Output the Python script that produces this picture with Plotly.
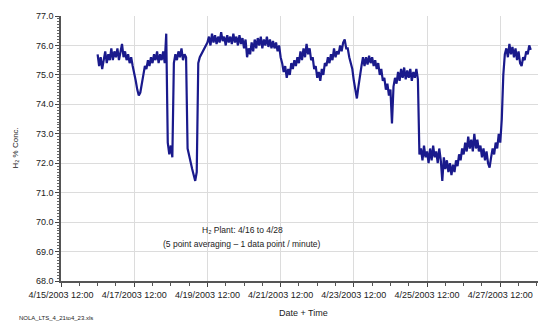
import pandas as pd
import plotly.graph_objects as go

# Hourly H2 concentration readings (%), starting 4/16/2003 12:00
h2 = [
    # 4/16 12:00 - 4/17 11:00
    75.7, 75.3, 75.6, 75.2, 75.5, 75.8, 75.4, 75.7, 75.5, 75.9, 75.5, 75.8,
    75.6, 75.9, 75.5, 75.8, 76.05, 75.6, 75.8, 75.5, 75.7, 75.4, 75.6, 75.3,
    # 4/17 12:00 - 4/18 11:00
    75.1, 74.8, 74.5, 74.3, 74.4, 74.8, 75.0, 75.3, 75.2, 75.5, 75.3, 75.6,
    75.4, 75.7, 75.5, 75.8, 75.4, 75.7, 75.5, 75.8, 75.4, 76.4, 72.7, 72.3,
    # 4/18 12:00 - 4/19 11:00
    72.6, 72.2, 75.4, 75.7, 75.5, 75.8, 75.6, 75.9, 75.5, 75.7, 75.6, 72.5,
    72.3, 72.0, 71.8, 71.6, 71.4, 71.7, 75.4, 75.6, 75.7, 75.8, 75.9, 76.05,
    # 4/19 12:00 - 4/20 11:00
    76.1, 76.3, 76.0, 76.4, 76.1, 76.35, 76.05, 76.3, 76.1, 76.45, 76.15, 76.3,
    76.0, 76.35, 76.1, 76.3, 76.05, 76.4, 76.1, 76.3, 76.0, 76.35, 76.05, 76.25,
    # 4/20 12:00 - 4/21 11:00
    75.9, 76.2, 75.6, 75.9, 75.7, 76.1, 75.8, 76.2, 75.9, 76.25, 76.0, 76.3,
    75.9, 76.2, 76.0, 76.3, 75.95, 76.2, 75.9, 76.15, 75.9, 76.1, 75.8, 76.0,
    # 4/21 12:00 - 4/22 11:00
    75.6, 75.4, 75.1, 75.3, 74.9, 75.2, 75.0, 75.4, 75.2, 75.5, 75.3, 75.6,
    75.4, 75.8, 75.5, 75.9, 75.6, 76.05, 75.7, 75.9, 75.5, 75.6, 75.2, 75.3,
    # 4/22 12:00 - 4/23 11:00
    74.9, 75.1, 74.8, 75.2, 75.0, 75.4, 75.3, 75.6, 75.4, 75.7, 75.5, 75.9,
    75.6, 75.8, 75.7, 76.0, 75.8, 76.1, 76.2, 75.9, 75.9, 75.6, 75.4, 75.2,
    # 4/23 12:00 - 4/24 11:00
    74.8, 74.5, 74.2, 74.6, 75.0, 75.3, 75.6, 75.3, 75.6, 75.35, 75.65, 75.4,
    75.6, 75.3, 75.5, 75.2, 75.4, 75.0, 75.2, 74.8, 74.9, 74.5, 74.7, 74.3,
    # 4/24 12:00 - 4/25 11:00
    74.5, 73.35, 74.6, 74.9, 74.7, 75.1, 74.8, 75.2, 74.9, 75.25, 74.85, 75.15,
    74.9, 75.2, 74.8, 75.1, 74.9, 75.2, 74.85, 72.3, 72.5, 72.1, 72.6, 72.2,
    # 4/25 12:00 - 4/26 11:00
    72.4, 72.0, 72.5, 72.1, 72.6, 72.2, 72.4, 72.0, 72.5, 72.1, 71.4, 72.2,
    71.8, 72.1, 71.7, 72.0, 71.6, 71.95, 71.7, 72.1, 71.9, 72.3, 72.1, 72.5,
    # 4/26 12:00 - 4/27 11:00
    72.3, 72.7, 72.4, 72.9, 72.5, 72.8, 72.4, 73.0, 72.5, 72.8, 72.4, 72.6,
    72.2, 72.5, 72.1, 72.4, 72.0, 71.85, 72.2, 72.5, 72.3, 72.7, 72.5, 73.0,
    # 4/27 12:00 - 4/28 08:00
    72.7, 73.5, 75.0, 75.7, 75.9, 75.6, 76.05, 75.7, 75.95, 75.6, 75.9, 75.5,
    75.8, 75.4, 75.3, 75.6, 75.5, 75.8, 75.7, 76.0, 75.85,
]
start_time = "2003-04-16 12:00"

tick_dates = ["2003-04-15 12:00", "2003-04-17 12:00", "2003-04-19 12:00",
              "2003-04-21 12:00", "2003-04-23 12:00", "2003-04-25 12:00",
              "2003-04-27 12:00"]
tick_labels = ["4/15/2003 12:00", "4/17/2003 12:00", "4/19/2003 12:00",
               "4/21/2003 12:00", "4/23/2003 12:00", "4/25/2003 12:00",
               "4/27/2003 12:00"]
y_ticks = [68, 69, 70, 71, 72, 73, 74, 75, 76, 77]

times = pd.date_range(start_time, periods=len(h2), freq="h")

FONT = "Liberation Sans, Arial, sans-serif"
TXT = "#222222"

fig = go.Figure()
fig.add_trace(go.Scatter(x=times, y=h2, mode="lines",
                         line=dict(color="#1a1a8c", width=2.2),
                         hoverinfo="skip", showlegend=False))

# page body has an 8px margin, so the figure is 8px smaller in each direction
fig.update_layout(
    width=538, height=315,
    margin=dict(l=53, r=1, t=8, b=42),
    paper_bgcolor="white", plot_bgcolor="white",
    font=dict(family=FONT, size=9, color=TXT),
    xaxis=dict(
        type="date",
        range=["2003-04-15 12:00", "2003-04-28 17:20"],
        tickvals=tick_dates, ticktext=tick_labels,
        ticks="outside", ticklen=4, tickwidth=1, tickcolor="#444444",
        showgrid=True, gridcolor="#dcdcdc", gridwidth=1,
        showline=True, linecolor="#555555", linewidth=1.5,
        zeroline=False,
        minor=dict(dtick=43200000, tick0="2003-04-15 12:00", ticklen=3,
                   ticks="outside", tickcolor="#555555", showgrid=False),
        tickfont=dict(family=FONT, size=9, color=TXT),
        fixedrange=True,
    ),
    yaxis=dict(
        range=[68, 77],
        tickvals=y_ticks, tickformat=".1f",
        ticks="outside", ticklen=4, tickwidth=1, tickcolor="#444444",
        showgrid=True, gridcolor="#dcdcdc", gridwidth=1,
        showline=True, linecolor="#555555", linewidth=1.5,
        zeroline=False,
        minor=dict(dtick=0.1, ticklen=2, ticks="outside",
                   tickcolor="#666666", showgrid=False),
        tickfont=dict(family=FONT, size=9, color=TXT),
        fixedrange=True,
    ),
    annotations=[
        dict(text="H\u2082 % Conc.", textangle=-90, xref="paper", yref="paper",
             x=-0.095, y=0.5, xanchor="center", yanchor="middle", showarrow=False,
             font=dict(size=8, color=TXT)),
        dict(text="Date + Time", xref="paper", yref="paper",
             x=0.5, y=-0.121, xanchor="center", yanchor="middle", showarrow=False,
             font=dict(size=9, color=TXT)),
        dict(text="NOLA_LTS_4_21to4_23.xls", xref="paper", yref="paper",
             x=-0.091, y=-0.14, xanchor="left", yanchor="middle", showarrow=False,
             font=dict(size=6, color=TXT)),
        dict(text="H\u2082 Plant: 4/16 to 4/28", xref="paper", yref="paper",
             x=0.374, y=0.192, xanchor="center", yanchor="middle", showarrow=False,
             font=dict(size=8.5, color=TXT)),
        dict(text="(5 point averaging \u2013 1 data point / minute)", xref="paper",
             yref="paper", x=0.374, y=0.139, xanchor="center", yanchor="middle",
             showarrow=False, font=dict(size=8.5, color=TXT)),
    ],
)

fig.write_html("out.html")
